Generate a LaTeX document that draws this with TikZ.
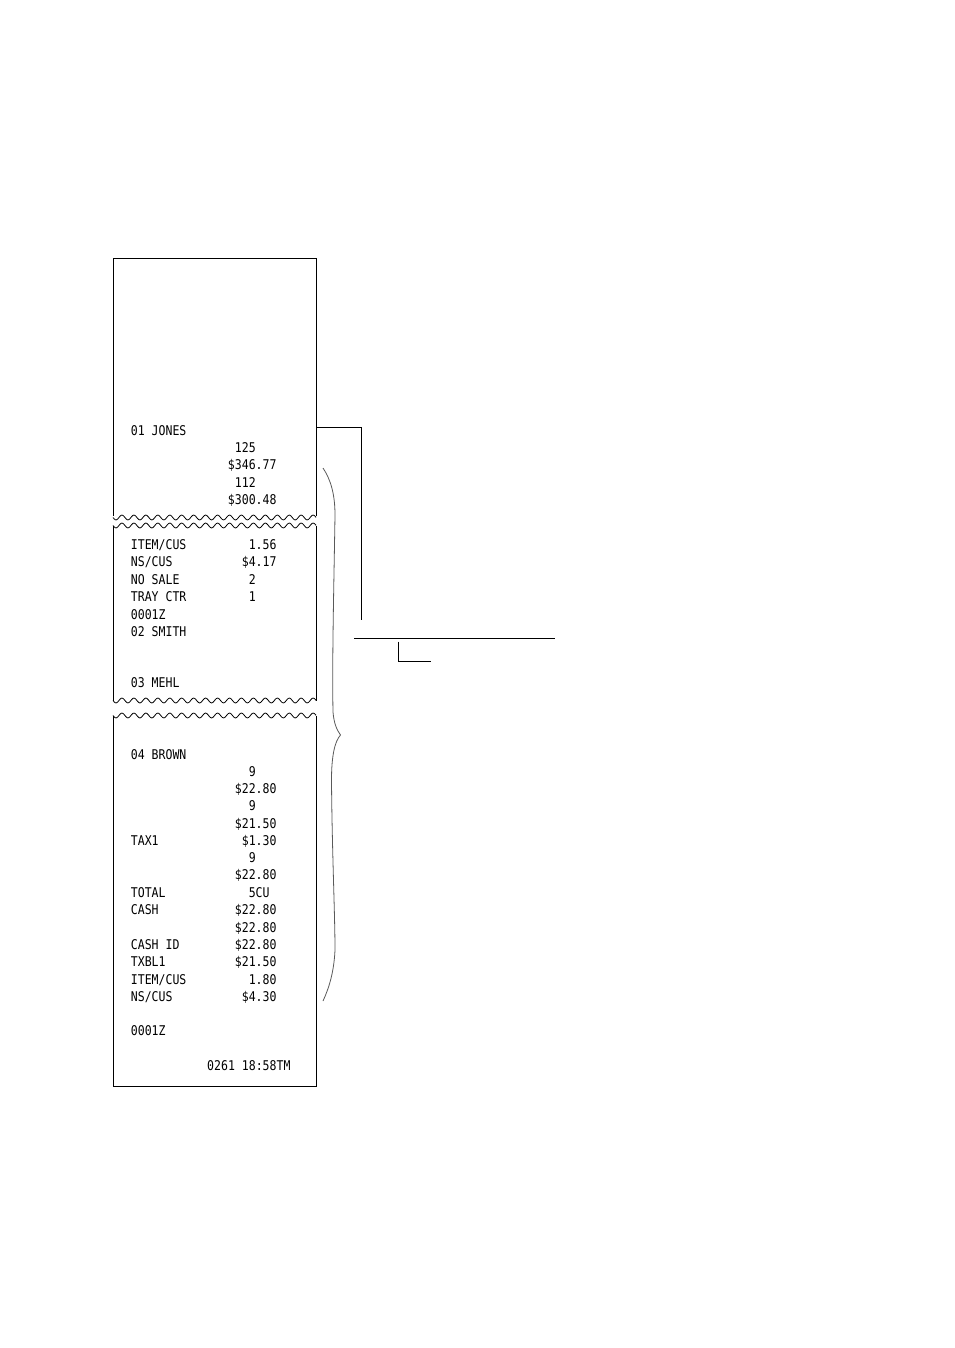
\documentclass[tikz,border=0pt]{standalone}
\usepackage{fontspec}
\newfontfamily\rcptfont[FakeStretch=0.86]{DejaVu Sans Mono}
\newcommand\colx[1]{130.9+#1*6.935}
\begin{document}
\begin{tikzpicture}[x=1pt,y=-1pt,
  paper/.style={line width=0.9pt, black, line join=miter},
  wave/.style={line width=0.8pt, black},
  conn/.style={line width=0.9pt, black},
  bracestyle/.style={line width=0.8pt, black!65},
  rt/.style={anchor=base west, inner sep=0pt, outer sep=0pt, font=\rcptfont\fontsize{13.4}{14}\selectfont}]
\useasboundingbox (0,0) rectangle (954,1348);

% ---- paper segments ----
\draw[paper] (113,516) -- (113,258) -- (316,258) -- (316,516);
\draw[wave] plot[domain=113:316, samples=300] (\x, {517.5 + 2.4*sin(30.125*(\x-113))});
\draw[wave] plot[domain=113:316, samples=300] (\x, {525.5 + 2.4*sin(30.125*(\x-113))});
\draw[paper] (113,525.5) -- (113,700.5);
\draw[paper] (316,525.5) -- (316,700.5);
\draw[wave] plot[domain=113:316, samples=300] (\x, {700.5 + 2.4*sin(30.125*(\x-113))});
\draw[wave] plot[domain=113:316, samples=300] (\x, {715.5 + 2.4*sin(30.125*(\x-113))});
\draw[paper] (113,715.5) -- (113,1086) -- (316,1086) -- (316,715.5);

% ---- receipt text ----
\node[rt] (a1) at ({\colx{0}},435) {01 JONES};
\node[rt] (a2) at ({\colx{15}},452) {125};
\node[rt] (a3) at ({\colx{14}},469.5) {\$346.77};
\node[rt] (a4) at ({\colx{15}},487) {112};
\node[rt] (a5) at ({\colx{14}},504) {\$300.48};

\node[rt] (b1) at ({\colx{0}},549) {ITEM/CUS};
\node[rt] (b1v) at ({\colx{17}},549) {1.56};
\node[rt] (b2) at ({\colx{0}},566) {NS/CUS};
\node[rt] (b2v) at ({\colx{16}},566) {\$4.17};
\node[rt] (b3) at ({\colx{0}},584) {NO SALE};
\node[rt] (b3v) at ({\colx{17}},584) {2};
\node[rt] (b4) at ({\colx{0}},601.5) {TRAY CTR};
\node[rt] (b4v) at ({\colx{17}},601.5) {1};
\node[rt] (b5) at ({\colx{0}},619) {0001Z};
\node[rt] (b6) at ({\colx{0}},636.5) {02 SMITH};
\node[rt] (b7) at ({\colx{0}},687.5) {03 MEHL};

\node[rt] (c1) at ({\colx{0}},759) {04 BROWN};
\node[rt] (c2) at ({\colx{17}},776) {9};
\node[rt] (c3) at ({\colx{15}},793.5) {\$22.80};
\node[rt] (c4) at ({\colx{17}},810.5) {9};
\node[rt] (c5) at ({\colx{15}},828) {\$21.50};
\node[rt] (c6) at ({\colx{0}},845) {TAX1};
\node[rt] (c6v) at ({\colx{16}},845) {\$1.30};
\node[rt] (c7) at ({\colx{17}},862) {9};
\node[rt] (c8) at ({\colx{15}},879.5) {\$22.80};
\node[rt] (c9) at ({\colx{0}},897) {TOTAL};
\node[rt] (c9v) at ({\colx{17}},897) {5CU};
\node[rt] (c10) at ({\colx{0}},914) {CASH};
\node[rt] (c10v) at ({\colx{15}},914) {\$22.80};
\node[rt] (c11) at ({\colx{15}},932) {\$22.80};
\node[rt] (c12) at ({\colx{0}},949) {CASH ID};
\node[rt] (c12v) at ({\colx{15}},949) {\$22.80};
\node[rt] (c13) at ({\colx{0}},966.5) {TXBL1};
\node[rt] (c13v) at ({\colx{15}},966.5) {\$21.50};
\node[rt] (c14) at ({\colx{0}},984) {ITEM/CUS};
\node[rt] (c14v) at ({\colx{17}},984) {1.80};
\node[rt] (c15) at ({\colx{0}},1001.5) {NS/CUS};
\node[rt] (c15v) at ({\colx{16}},1001.5) {\$4.30};
\node[rt] (c16) at ({\colx{0}},1035) {0001Z};
\node[rt] (c17) at ({\colx{11}},1070.5) {0261 18:58TM};

% ---- connectors ----
\coordinate (p1) at (316,427);
\coordinate (p2) at (361,620);
\coordinate (h1) at (354,638.5);
\coordinate (h2) at (554.5,638.5);
\coordinate (l1) at (398.3,641.5);
\coordinate (l2) at (430.7,661.5);
\draw[conn] (p1) -| (p2);
\draw[conn] (h1) -- (h2);
\draw[conn] (l1) |- (l2);

% ---- brace ----
\draw[bracestyle] (323,468) .. controls (331,480) and (335,495) .. (335,515)
  .. controls (334,580) and (332,660) .. (333,712)
  .. controls (334,724) and (337,730) .. (340.5,735)
  .. controls (335,741) and (331.5,755) .. (331.5,780)
  .. controls (332,850) and (335,915) .. (335,950)
  .. controls (334,972) and (329,988) .. (323,1001);
\end{tikzpicture}
\end{document}
